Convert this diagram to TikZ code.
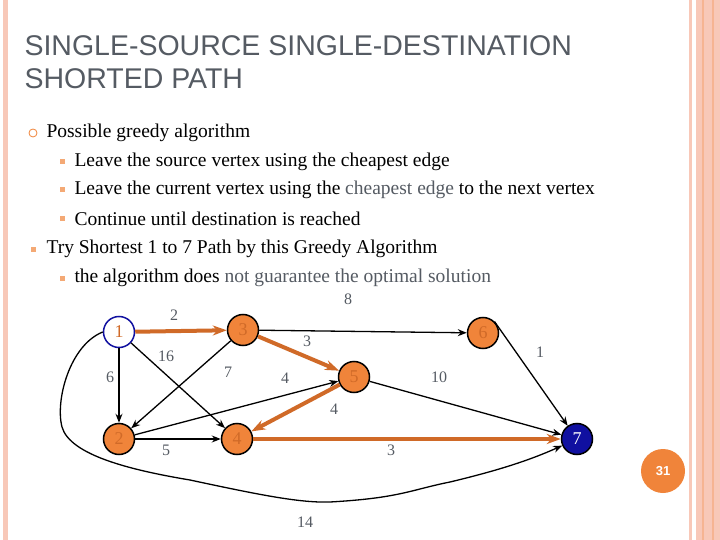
\documentclass[tikz,border=0pt]{standalone}
\usepackage{fontspec}
\setmainfont{Liberation Serif}
\newfontfamily\titlefont{Liberation Sans}
\usetikzlibrary{arrows.meta}
\definecolor{pk}{HTML}{F8C8B8}
\definecolor{og}{HTML}{F0843A}
\definecolor{dog}{HTML}{D06A28}
\definecolor{gt}{HTML}{555B63}
\definecolor{nv}{HTML}{1010A0}
\begin{document}
\begin{tikzpicture}[x=1pt,y=-1pt,
 vtx/.style={circle,draw=black,line width=1.5pt,fill=og,minimum size=31pt,inner sep=0pt,text=dog,font=\fontsize{18}{18}\selectfont},
 wt/.style={text=gt,font=\fontsize{16}{16}\selectfont},
 be/.style={-{Stealth[length=9pt,width=7pt]},line width=1.3pt},
 oe/.style={-{Stealth[length=14pt,width=10pt]},line width=4pt,draw=dog},
 bt/.style={anchor=west,font=\fontsize{19.5}{19.5}\selectfont},
 sq/.style={fill=og!70,minimum size=5pt,inner sep=0pt}]
\useasboundingbox (0,0) rectangle (720,540);
\fill[white] (0,0) rectangle (720,540);
\fill[pk] (3,0) rectangle (8,540);
\fill[pk] (689,0) rectangle (692,540);
\fill[pk] (696,0) rectangle (720,540);
\fill[pk!70!og] (702,0) rectangle (704,540);
\fill[pk!70!og] (712,0) rectangle (714,540);
\node[anchor=west,text=gt,font=\titlefont\fontsize{28.5}{33}\selectfont,align=left] (title) at (21,62) {SINGLE-SOURCE SINGLE-DESTINATION\\SHORTED PATH};
\node[circle,draw=og,thick,minimum size=8pt,inner sep=0pt] (b0) at (33,133) {};
\node[bt] (t0) at (43,133) {Possible greedy algorithm};
\node[sq] (b1) at (62,162) {}; \node[bt] (t1) at (71,162) {Leave the source vertex using the cheapest edge};
\node[sq] (b2) at (62,190) {}; \node[bt] (t2) at (71,190) {Leave the current vertex using the \textcolor{gt}{cheapest edge} to the next vertex};
\node[sq] (b3) at (62,219) {}; \node[bt] (t3) at (71,219) {Continue until destination is reached};
\node[sq] (b4) at (33,249) {}; \node[bt] (t4) at (43,249) {Try Shortest 1 to 7 Path by this Greedy Algorithm};
\node[sq] (b5) at (62,278) {}; \node[bt] (t5) at (71,278) {the algorithm does \textcolor{gt}{not guarantee the optimal solution}};
\node[vtx,fill=white,draw=nv] (n1) at (119,332) {1};
\node[vtx] (n3) at (243,330) {3};
\node[vtx] (n6) at (483,333) {6};
\node[vtx] (n5) at (354,377) {5};
\node[vtx] (n2) at (119,439) {2};
\node[vtx] (n4) at (237,439) {4};
\node[vtx,fill=nv,text=white] (n7) at (577,439) {7};
\draw[be] (n3) -- (n6);
\draw[be] (n3) -- (n2);
\draw[be] (n1) -- (n2);
\draw[be] (n1) -- (n4);
\draw[be] (n2) -- (n5);
\draw[be] (n2) -- (n4);
\draw[be] (n5) -- (n7);
\draw[be] (n6.north east) -- (n7);
\draw[be] (n1.west) .. controls (70,345) and (55,400) .. (62,427) .. controls (70,455) and (130,470) .. (190,480) .. controls (260,495) and (300,503) .. (330,502) .. controls (400,498) and (410,490) .. (450,482) .. controls (500,470) and (530,460) .. (n7);
\draw[oe] (n1) -- (n3);
\draw[oe] (n3) -- (n5);
\draw[oe] (n5) -- (n4);
\draw[oe] (n4) -- (n7);
\node[wt] (w2) at (174,315) {2};
\node[wt] (w8) at (348,299) {8};
\node[wt] (w3a) at (307,341) {3};
\node[wt] (w16) at (166,356) {16};
\node[wt] (w6) at (110,377) {6};
\node[wt] (w7) at (228,372) {7};
\node[wt] (w4a) at (285,378) {4};
\node[wt] (w1) at (540,352) {1};
\node[wt] (w10) at (439,377) {10};
\node[wt] (w4b) at (334,409) {4};
\node[wt] (w5) at (166,450) {5};
\node[wt] (w3b) at (391,450) {3};
\node[wt] (w14) at (305,522) {14};
\node[circle,fill=og,minimum size=44pt,inner sep=0pt,text=white,font=\titlefont\bfseries\fontsize{13}{13}\selectfont] (pg) at (663,471) {31};
\end{tikzpicture}
\end{document}
